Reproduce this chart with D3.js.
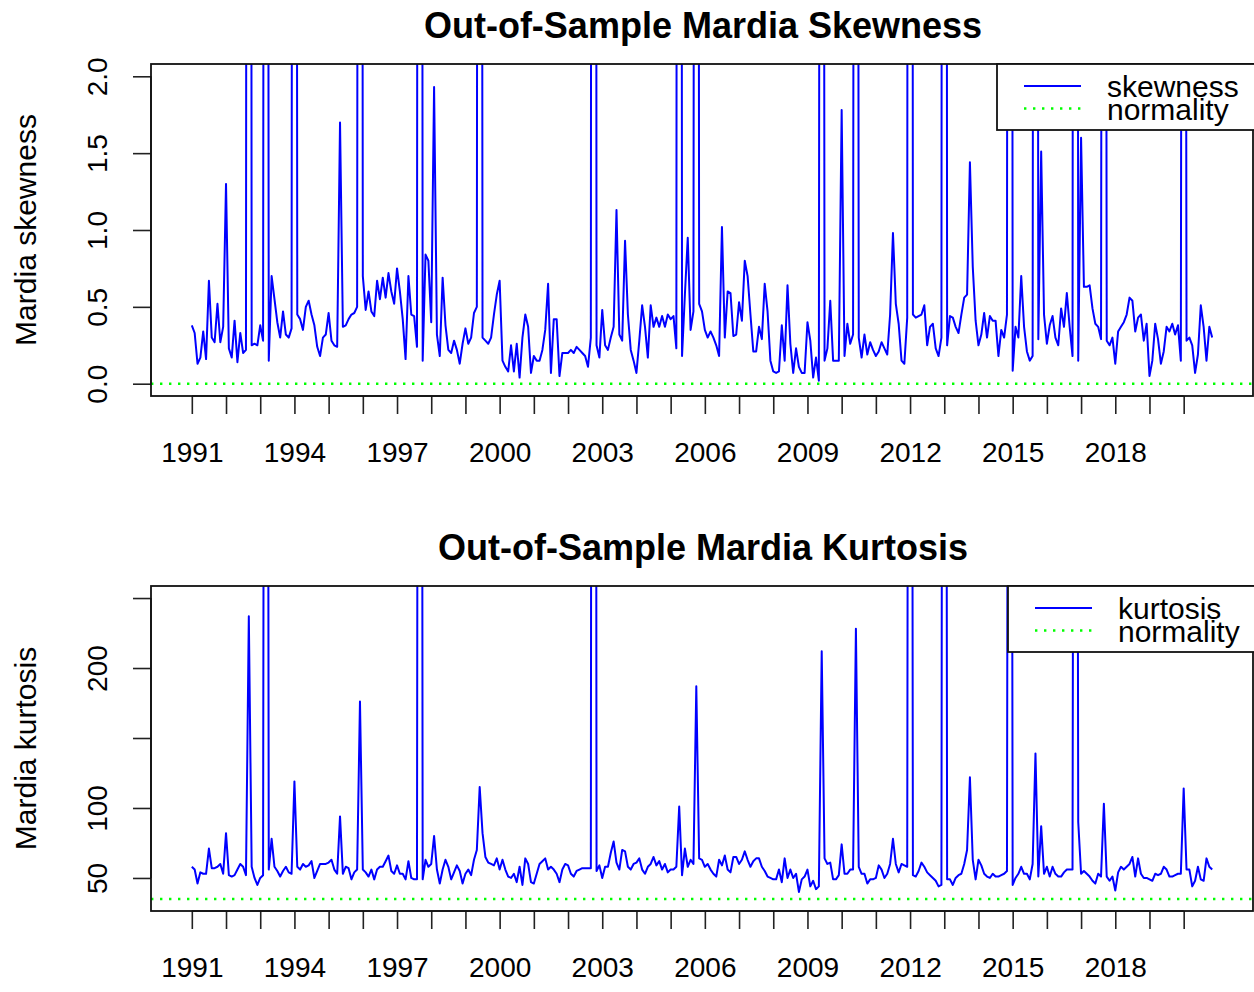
<!DOCTYPE html>
<html><head><meta charset="utf-8">
<script src="https://cdn.jsdelivr.net/npm/d3@7"></script>
<style>body{margin:0;background:#fff}svg{display:block}text{font-family:"Liberation Sans",Arial,Helvetica,sans-serif;fill:#000}</style>
</head><body>
<svg id="c" width="1254" height="992"></svg>
<script>
// monthly observations starting January 1991
const startYear = 1991;
const skewness = [
0.38,0.33,0.13,0.17,0.34,0.16,0.67,0.30,0.27,0.52,
0.27,0.37,1.30,0.23,0.17,0.41,0.14,0.33,0.20,0.22,
25,0.25,0.26,0.25,0.38,0.28,18,0.15,0.70,0.55,
0.40,0.30,0.47,0.32,0.30,0.36,22,0.45,0.42,0.35,
0.50,0.54,0.45,0.38,0.24,0.18,0.30,0.32,0.46,0.28,
0.25,0.24,1.70,0.37,0.38,0.42,0.45,0.46,0.50,20,
0.70,0.48,0.60,0.47,0.44,0.67,0.55,0.69,0.56,0.72,
0.60,0.52,0.75,0.60,0.42,0.16,0.70,0.45,0.44,0.24,
24,0.15,0.84,0.80,0.40,1.93,0.32,0.18,0.69,0.38,
0.22,0.20,0.28,0.22,0.13,0.26,0.36,0.26,0.30,0.46,
0.50,21,0.30,0.28,0.26,0.30,0.45,0.58,0.67,0.15,
0.11,0.08,0.25,0.08,0.26,0.04,0.30,0.45,0.37,0.07,
0.18,0.15,0.15,0.22,0.35,0.65,0.07,0.42,0.42,0.05,
0.20,0.20,0.20,0.22,0.20,0.24,0.22,0.20,0.18,0.11,
0.30,30,0.25,0.17,0.48,0.25,0.22,0.30,0.37,1.13,
0.32,0.28,0.93,0.45,0.22,0.15,0.07,0.28,0.51,0.37,
0.17,0.51,0.37,0.43,0.37,0.44,0.37,0.45,0.42,0.44,
0.23,26,0.18,0.58,0.95,0.35,0.47,19,0.52,0.47,
0.35,0.30,0.34,0.30,0.25,0.18,1.02,0.30,0.60,0.59,
0.31,0.32,0.53,0.41,0.80,0.70,0.45,0.21,0.21,0.37,
0.29,0.65,0.47,0.15,0.08,0.07,0.08,0.38,0.15,0.64,
0.26,0.07,0.23,0.11,0.07,0.07,0.40,0.28,0.04,0.17,
0.02,17,0.15,0.23,0.54,0.15,0.15,0.15,1.78,0.18,
0.39,0.26,0.32,16,0.30,0.17,0.32,0.19,0.27,0.22,
0.18,0.21,0.27,0.23,0.19,0.45,0.98,0.52,0.39,0.15,
0.13,0.43,28,0.45,0.43,0.44,0.45,0.51,0.25,0.37,
0.39,0.23,0.18,0.30,27,0.25,0.44,0.43,0.37,0.33,
0.45,0.56,0.58,1.44,0.76,0.41,0.25,0.32,0.46,0.30,
0.44,0.41,0.41,0.18,0.35,0.30,0.45,23,0.085,0.37,
0.30,0.70,0.37,0.21,0.15,0.18,19,0.29,1.51,0.45,
0.26,0.38,0.44,0.30,0.25,0.49,0.37,0.59,0.37,0.18,
24,0.15,1.60,0.63,0.63,0.64,0.49,0.39,0.37,0.29,
15,0.28,0.25,0.30,0.13,0.34,0.37,0.40,0.45,0.56,
0.54,0.34,0.43,0.45,0.28,0.39,0.05,0.15,0.39,0.29,
0.13,0.21,0.37,0.34,0.39,0.32,0.38,0.15,14,0.28,
0.30,0.25,0.07,0.19,0.51,0.37,0.15,0.37,0.30
];
const kurtosis = [
58,56,46,54,53,53,71,57,57,58,
60,53,82,52,51,52,56,60,58,52,
237,58,50,45,50,52,1500,56,78,58,
55,51,55,58,54,53,119,58,56,60,
58,59,62,50,55,60,60,60,61,63,
56,53,94,53,58,57,49,54,56,176,
56,54,51,56,49,56,58,58,62,66,
55,53,59,53,53,49,62,50,49,49,
1800,49,63,58,60,80,56,46,56,63,
58,49,54,59,55,46,53,56,52,63,
70,115,82,65,61,60,59,64,56,63,
56,51,50,53,47,58,45,64,60,47,
46,53,60,62,64,56,58,56,53,47,
56,60,59,53,51,55,56,57,57,57,
57,2500,55,59,50,58,58,68,76,61,
56,70,69,58,56,60,61,64,56,53,
58,60,65,59,62,56,60,54,56,56,
58,101,52,71,58,63,60,187,64,63,
58,60,56,53,51,63,59,66,56,54,
65,65,60,63,69,63,58,62,64,64,
58,55,51,50,49,49,56,47,64,50,
56,50,53,40,49,51,56,44,48,42,
44,212,64,60,61,49,49,52,74,53,
53,56,56,228,58,53,53,46,49,49,
50,59,56,50,53,60,78,60,54,60,
59,58,1600,52,51,55,61,58,54,52,
50,48,44,45,1700,49,49,45,50,52,
53,60,70,122,63,49,63,59,53,51,
50,53,51,51,52,53,55,1400,45,50,
53,58,53,53,49,60,139,51,87,53,
58,51,58,53,51,51,54,56,56,56,
1300,90,53,55,53,51,48,46,53,51,
103,51,48,51,41,54,58,56,58,60,
65,51,64,53,50,50,49,48,53,52,
53,58,56,51,51,52,53,53,114,56,
56,44,48,58,49,48,64,58,56
];
const yearTicks = d3.range(1991, 2021);
const yearLabels = [1991,1994,1997,2000,2003,2006,2009,2012,2015,2018];
const skewTicks = [0, 0.5, 1, 1.5, 2];
const skewLabels = [0, 0.5, 1, 1.5, 2];
const kurtTicks = [50, 100, 150, 200, 250];
const kurtLabels = [50, 100, 200];
const skewNormal = 0;
const kurtNormal = 35;
const skewLim = [0, 2];
const kurtLim = [35, 250];

const svg = d3.select("#c");
const L = 151, R = 1253;
const times = skewness.map((_, i) => startYear + i / 12);
const t0 = times[0], t1 = times[times.length - 1];
const ex = 0.04 * (t1 - t0);
const x = d3.scaleLinear().domain([t0 - ex, t1 + ex]).range([L, R]);

function panel(cfg) {
  const {top, bottom, values, lim, ticks, labels, fmt, normal, title, ylab, legendName, legendW, id} = cfg;
  const ey = 0.04 * (lim[1] - lim[0]);
  const y = d3.scaleLinear().domain([lim[0] - ey, lim[1] + ey]).range([bottom, top]);
  const g = svg.append("g");
  g.append("clipPath").attr("id", id).append("rect")
    .attr("x", L).attr("y", top).attr("width", R - L).attr("height", bottom - top);
  // normality reference line
  g.append("line").attr("clip-path", `url(#${id})`)
    .attr("x1", L).attr("x2", R).attr("y1", y(normal)).attr("y2", y(normal))
    .attr("stroke", "#00ff00").attr("stroke-width", 2.4).attr("stroke-dasharray", "2.4,6.6");
  // series
  const line = d3.line().x((d, i) => x(times[i])).y(d => y(d));
  g.append("path").datum(values).attr("clip-path", `url(#${id})`)
    .attr("d", line).attr("fill", "none").attr("stroke", "#0000ff")
    .attr("stroke-width", 2).attr("stroke-linejoin", "round");
  // x axis
  const xa = g.append("g").attr("transform", `translate(0,${bottom})`)
    .call(d3.axisBottom(x).tickValues(yearTicks).tickSize(18).tickSizeOuter(0).tickPadding(28)
      .tickFormat(d => yearLabels.includes(d) ? String(d) : ""));
  xa.select(".domain").remove();
  xa.selectAll(".tick line").attr("stroke", "#222").attr("stroke-width", 1.6);
  xa.selectAll(".tick text").attr("font-size", 28).style("font-family", "Liberation Sans, Arial, sans-serif");
  xa.append("line").attr("x1", x(yearTicks[0])).attr("x2", x(yearTicks[yearTicks.length - 1]))
    .attr("stroke", "#222").attr("stroke-width", 1.6);
  // y axis
  const ya = g.append("g").attr("transform", `translate(${L},0)`)
    .call(d3.axisLeft(y).tickValues(ticks).tickSize(18).tickSizeOuter(0)
      .tickFormat(d => labels.includes(d) ? fmt(d) : ""));
  ya.select(".domain").remove();
  ya.selectAll(".tick line").attr("stroke", "#222").attr("stroke-width", 1.6);
  ya.selectAll(".tick text").attr("font-size", 28).attr("x", null).attr("dy", null)
    .attr("text-anchor", "middle").attr("transform", "translate(-44,0) rotate(-90)")
    .style("font-family", "Liberation Sans, Arial, sans-serif");
  ya.append("line").attr("y1", y(ticks[0])).attr("y2", y(ticks[ticks.length - 1]))
    .attr("stroke", "#222").attr("stroke-width", 1.6);
  // box
  g.append("rect").attr("x", L).attr("y", top).attr("width", R - L).attr("height", bottom - top)
    .attr("fill", "none").attr("stroke", "#111").attr("stroke-width", 1.8);
  // titles
  g.append("text").attr("x", (L + R) / 2 + 1).attr("y", top - 26).attr("text-anchor", "middle")
    .attr("font-size", 36).attr("font-weight", "bold").text(title);
  g.append("text").attr("transform", `translate(36,${(top + bottom) / 2}) rotate(-90)`)
    .attr("text-anchor", "middle").attr("font-size", 30).text(ylab);
  // legend
  const lg = g.append("g");
  lg.append("rect").attr("x", R - legendW).attr("y", top).attr("width", legendW + 4).attr("height", 66)
    .attr("fill", "#fff").attr("stroke", "#111").attr("stroke-width", 1.8);
  const items = [
    {name: legendName, color: "#0000ff", dash: null, w: 2},
    {name: "normality", color: "#00ff00", dash: "2.4,6.6", w: 2.4}
  ];
  items.forEach((it, k) => {
    const ly = top + 22 + k * 22.5;
    lg.append("line").attr("x1", R - legendW + 27).attr("x2", R - legendW + 84)
      .attr("y1", ly).attr("y2", ly).attr("stroke", it.color).attr("stroke-width", it.w)
      .attr("stroke-dasharray", it.dash);
    lg.append("text").attr("x", R - legendW + 110).attr("y", ly + 11).attr("font-size", 30).text(it.name);
  });
}

panel({top: 64, bottom: 396, values: skewness, lim: skewLim, ticks: skewTicks, labels: skewLabels,
  fmt: d3.format(".1f"), normal: skewNormal, title: "Out-of-Sample Mardia Skewness",
  ylab: "Mardia skewness", legendName: "skewness", legendW: 256, id: "clipA"});
panel({top: 586, bottom: 911, values: kurtosis, lim: kurtLim, ticks: kurtTicks, labels: kurtLabels,
  fmt: d3.format("d"), normal: kurtNormal, title: "Out-of-Sample Mardia Kurtosis",
  ylab: "Mardia kurtosis", legendName: "kurtosis", legendW: 245, id: "clipB"});
</script>
</body></html>
